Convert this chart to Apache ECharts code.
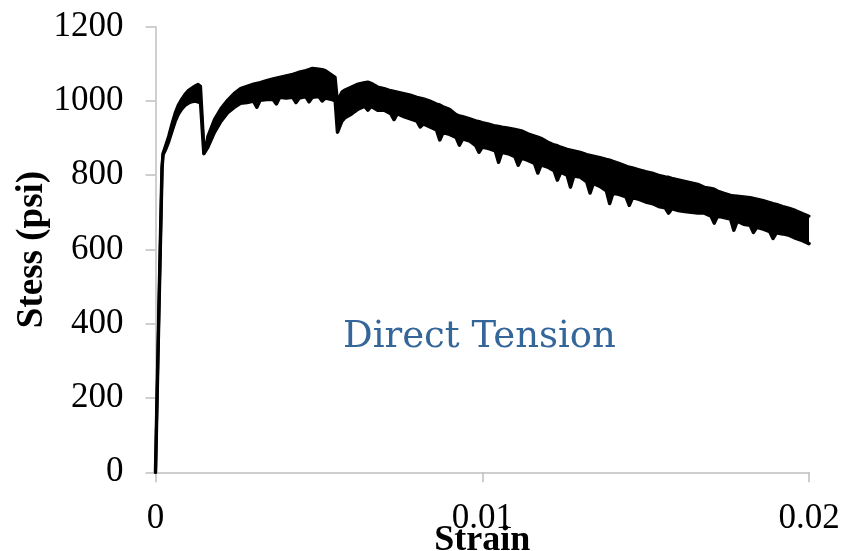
<!DOCTYPE html>
<html>
<head>
<meta charset="utf-8">
<script src="https://cdn.jsdelivr.net/npm/echarts@6/dist/echarts.min.js"></script>
<style>
  html, body { margin: 0; padding: 0; background: #ffffff; }
  #chart { width: 846px; height: 551px; }
</style>
</head>
<body>
<div id="chart"></div>
<script>
// Direct tension test: stress-strain record.
// The noisy response is stored as an upper and a lower envelope at shared strains;
// spikes in the lower envelope are the dips of the oscillating signal.
const strain = [
  0, 0.0001, 0.0002, 0.00023, 0.0003, 0.0004, 0.0005, 0.0006, 0.0007, 0.0008,
  0.0009, 0.0010, 0.0011, 0.0012, 0.0013, 0.00138, 0.00148, 0.00152,
  0.0016, 0.0018, 0.0020, 0.0022, 0.0024, 0.0026, 0.0028, 0.0030, 0.0031, 0.0032,
  0.0034, 0.0036, 0.0037, 0.0038, 0.0040, 0.0042, 0.0043, 0.0044, 0.0046, 0.0047,
  0.0048, 0.0050, 0.0051, 0.0052, 0.0054, 0.0055, 0.00557,
  0.0057, 0.0058, 0.0060, 0.0062, 0.0064, 0.0065, 0.0066, 0.0068, 0.0070, 0.0072,
  0.0073, 0.0074, 0.0076, 0.0078, 0.0080, 0.0081, 0.0082, 0.0084, 0.0086, 0.0087,
  0.0088, 0.0090, 0.0092, 0.0093, 0.0094, 0.0096, 0.0098, 0.0099, 0.0100, 0.0102,
  0.0104, 0.0105, 0.0106, 0.0108, 0.0110, 0.0111, 0.0112, 0.0114, 0.0116, 0.0117,
  0.0118, 0.0120, 0.0122, 0.0123, 0.0124, 0.0126, 0.0127, 0.0128, 0.0130, 0.0132,
  0.0133, 0.0134, 0.0136, 0.0138, 0.0139, 0.0140, 0.0142, 0.0144, 0.0145, 0.0146,
  0.0148, 0.0150, 0.0152, 0.0154, 0.0156, 0.0157, 0.0158, 0.0160, 0.0162, 0.0164,
  0.0166, 0.0168, 0.0170, 0.0171, 0.0172, 0.0174, 0.0176, 0.0177, 0.0178, 0.0180,
  0.0182, 0.0183, 0.0184, 0.0186, 0.0188, 0.0189, 0.0190, 0.0192, 0.0194, 0.0196,
  0.0198, 0.0200
];

const stressUpper = [
  0, 420, 820, 860, 878, 905, 938, 968, 990, 1005,
  1018, 1028, 1034, 1040, 1045, 1040, 880, 868,
  905, 950, 980, 1002, 1020, 1034, 1040, 1046, 1048, 1050,
  1055, 1060, 1062, 1064, 1068, 1072, 1075, 1078, 1082, 1085,
  1088, 1086, 1085, 1082, 1070, 1064, 1000,
  1024, 1030, 1038, 1046, 1050, 1051, 1048, 1038, 1034, 1028,
  1026, 1024, 1020, 1016, 1010, 1008, 1006, 1000, 992, 990,
  985, 978, 964, 960, 958, 953, 947, 945, 942, 938,
  933, 932, 930, 927, 924, 922, 920, 912, 906, 903,
  900, 890, 882, 880, 876, 870, 868, 866, 862, 856,
  854, 852, 848, 843, 841, 838, 832, 825, 822, 820,
  815, 810, 806, 800, 796, 795, 792, 788, 784, 780,
  776, 768, 765, 763, 758, 752, 746, 745, 744, 742,
  740, 738, 736, 732, 727, 724, 722, 716, 711, 705,
  697, 690
];

const stressLower = [
  0, 420, 820, 855, 868, 890, 918, 945, 965, 978,
  988, 994, 998, 1000, 998, 994, 858, 855,
  875, 915, 945, 968, 982, 994, 996, 1000, 983, 1002,
  1004, 1004, 992, 1010, 1008, 1010, 996, 1008, 1012, 998,
  1010, 1012, 1000, 1008, 1004, 1000, 916,
  945, 955, 965, 978, 986, 975, 986, 975, 975, 966,
  950, 966, 958, 952, 946, 930, 938, 930, 922, 895,
  915, 910, 902, 881, 898, 893, 880, 862, 876, 872,
  866, 835, 862, 858, 850, 827, 846, 840, 832, 806,
  828, 822, 812, 787, 808, 800, 768, 798, 795, 782,
  752, 778, 770, 758, 724, 752, 748, 742, 719, 740,
  735, 728, 724, 716, 712, 698, 710, 705, 702, 700,
  698, 698, 690, 671, 690, 686, 682, 652, 676, 668,
  665, 646, 660, 655, 648, 630, 645, 642, 638, 630,
  624, 616
];

const xTicks = { min: 0, max: 0.02, interval: 0.01 };
const yTicks = { min: 0, max: 1200, interval: 200 };

// Items are [stress, strain] so that the stress dimension is the stacked one;
// the band series holds (upper - lower) and stacks on top of the lower envelope.
const lowerData = strain.map((s, i) => [stressLower[i], s]);
const bandData = strain.map((s, i) => [stressUpper[i] - stressLower[i], s]);

const serif = '"Liberation Serif", "Times New Roman", serif';
const axisGray = '#BFBFBF';

const chart = echarts.init(document.getElementById('chart'), null, { renderer: 'canvas' });
chart.setOption({
  animation: false,
  backgroundColor: '#ffffff',
  grid: {
    left: 155.5, right: 37, top: 26.7, bottom: 78.7,
    containLabel: false, outerBoundsMode: 'none'
  },
  xAxis: {
    type: 'value',
    min: xTicks.min, max: xTicks.max, interval: xTicks.interval,
    name: 'Strain',
    nameLocation: 'middle',
    nameGap: 50,
    nameMoveOverlap: false,
    nameTextStyle: { fontFamily: serif, fontWeight: 'bold', fontSize: 36, color: '#000', verticalAlign: 'top' },
    axisLine: { show: true, lineStyle: { color: axisGray, width: 1.5 } },
    axisTick: { show: true, length: 10, lineStyle: { color: axisGray, width: 1.5 } },
    axisLabel: { fontFamily: serif, fontSize: 35, color: '#000', margin: 29, formatter: v => String(v) },
    splitLine: { show: false }
  },
  yAxis: {
    type: 'value',
    min: yTicks.min, max: yTicks.max, interval: yTicks.interval,
    name: 'Stess (psi)',
    nameLocation: 'middle',
    nameGap: 105,
    nameMoveOverlap: false,
    nameTextStyle: { fontFamily: serif, fontWeight: 'bold', fontSize: 37, color: '#000' },
    axisLine: { show: true, lineStyle: { color: axisGray, width: 1.5 } },
    axisTick: { show: true, length: 10, lineStyle: { color: axisGray, width: 1.5 } },
    axisLabel: { fontFamily: serif, fontSize: 35, color: '#000', margin: 32, formatter: v => String(v) },
    splitLine: { show: false }
  },
  graphic: [{
    type: 'text',
    left: 343,
    top: 319,
    style: {
      text: 'Direct Tension',
      fontFamily: '"DejaVu Serif", serif',
      fontSize: 37,
      fill: '#35669A'
    }
  }],
  series: [
    {
      type: 'line',
      stack: 'band',
      data: lowerData,
      encode: { x: 1, y: 0 },
      symbol: 'none',
      lineStyle: { color: '#000', width: 3.5, join: 'round', cap: 'round' }
    },
    {
      type: 'line',
      stack: 'band',
      data: bandData,
      encode: { x: 1, y: 0 },
      symbol: 'none',
      lineStyle: { color: '#000', width: 3, join: 'round', cap: 'round' },
      areaStyle: { color: '#000', opacity: 1 }
    }
  ]
});
</script>
</body>
</html>
